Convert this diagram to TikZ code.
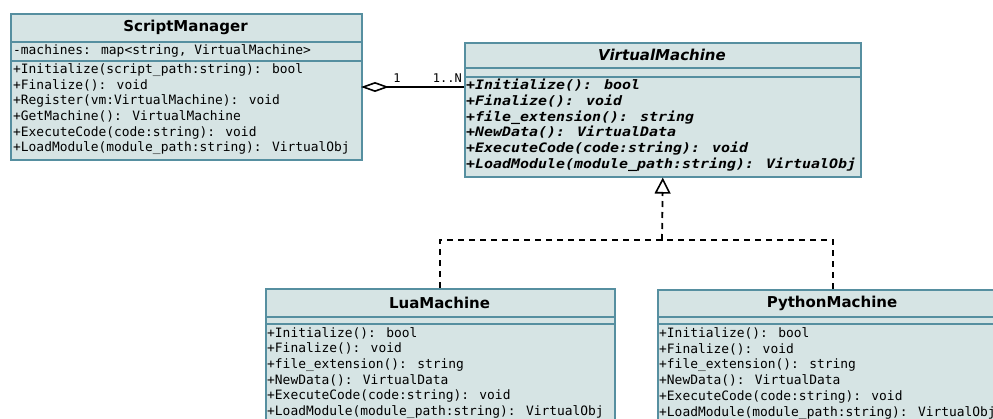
\documentclass[tikz,border=0pt]{standalone}
\usepackage{fontspec}
\setmainfont{DejaVu Sans}
\newfontfamily\monof{DejaVu Sans Mono}
\newfontfamily\vmf[FakeStretch=1.15]{DejaVu Sans Mono}
\usetikzlibrary{arrows.meta}
\definecolor{fillc}{RGB}{214,228,228}
\definecolor{bordc}{RGB}{86,143,160}
\tikzset{
  umlbox/.style={draw=bordc, fill=fillc, line width=1.6pt, rectangle, inner sep=0pt, anchor=north west},
  sepline/.style={draw=bordc, line width=1.6pt},
  titletxt/.style={font=\fontsize{15}{18}\selectfont\bfseries, text=black, inner sep=0pt},
  mem/.style={font=\monof\fontsize{12.9}{15}\selectfont, anchor=mid west, inner sep=0pt},
  vmmem/.style={font=\vmf\fontsize{13}{15}\selectfont\bfseries\itshape, anchor=mid west, inner sep=0pt},
  multlabel/.style={font=\monof\fontsize{12}{14}\selectfont, inner sep=0pt},
  conn/.style={line width=1.8pt, black},
  dashconn/.style={line width=1.8pt, black, dash pattern=on 6pt off 5pt},
}
\begin{document}
\begin{tikzpicture}[x=1pt,y=-1pt]
\useasboundingbox (0,0) rectangle (993,419);
\clip (0,0) rectangle (993,419);
\fill[white] (0,0) rectangle (993,419);

% ScriptManager
\node[umlbox, minimum width=351pt, minimum height=146pt] (SM) at (10,13) {};
\draw[sepline] (10,42) -- (361,42);
\draw[sepline] (10,61) -- (361,61);
\node[titletxt] (SMt) at (185.5,27.5) {ScriptManager};
\node[mem] (SMa) at (13,51.7) {-machines: map<string, VirtualMachine>};
\foreach \t [count=\i] in {{+Initialize(script\_path:string): bool},{+Finalize(): void},{+Register(vm:VirtualMachine): void},{+GetMachine(): VirtualMachine},{+ExecuteCode(code:string): void},{+LoadModule(module\_path:string): VirtualObj}}{
  \node[mem] (SM\i) at (13,{70.7+15.65*(\i-1)}) {\t};
}

% VirtualMachine
\node[umlbox, minimum width=396pt, minimum height=134pt] (VM) at (464,42) {};
\draw[sepline] (464,68) -- (860,68);
\draw[sepline] (464,77) -- (860,77);
\node[titletxt, font=\fontsize{15}{18}\selectfont\bfseries\itshape] (VMt) at (662,55) {VirtualMachine};
\foreach \t [count=\i] in {{+Initialize(): bool},{+Finalize(): void},{+file\_extension(): string},{+NewData(): VirtualData},{+ExecuteCode(code:string): void},{+LoadModule(module\_path:string): VirtualObj}}{
  \node[vmmem] (VM\i) at (466,{86.7+15.8*(\i-1)}) {\t};
}

% LuaMachine
\node[umlbox, minimum width=349pt, minimum height=145pt] (Lua) at (265,288) {};
\draw[sepline] (265,317) -- (614,317);
\draw[sepline] (265,324) -- (614,324);
\node[titletxt] (Luat) at (439.5,302.5) {LuaMachine};
\foreach \t [count=\i] in {{+Initialize(): bool},{+Finalize(): void},{+file\_extension(): string},{+NewData(): VirtualData},{+ExecuteCode(code:string): void},{+LoadModule(module\_path:string): VirtualObj}}{
  \node[mem] (Lua\i) at (267,{334.3+15.7*(\i-1)}) {\t};
}

% PythonMachine
\node[umlbox, minimum width=350pt, minimum height=145pt] (Py) at (657,289) {};
\draw[sepline] (657,317) -- (1007,317);
\draw[sepline] (657,324) -- (1007,324);
\node[titletxt] (Pyt) at (832,303) {PythonMachine};
\foreach \t [count=\i] in {{+Initialize(): bool},{+Finalize(): void},{+file\_extension(): string},{+NewData(): VirtualData},{+ExecuteCode(code:string): void},{+LoadModule(module\_path:string): VirtualObj}}{
  \node[mem] (Py\i) at (659,{334.8+15.7*(\i-1)}) {\t};
}

% Aggregation
\coordinate (aggS) at (361,87);
\coordinate (aggV) at (464,87);
\draw[conn, {Diamond[open, length=28pt, width=10pt, line width=1.6pt]}-] (aggS) -- (aggV);
\node[multlabel] (m1) at (397,78) {1};
\node[multlabel, anchor=east] (mN) at (462,78) {1..N};

% Inheritance
\coordinate (join) at (662,240);
\draw[dashconn] (Lua.north) |- (join) -| (Py.north);
\draw[dashconn, -{Triangle[open, length=16pt, width=16pt, line width=1.6pt]}] (join) -- (VM.south);
\end{tikzpicture}
\end{document}
